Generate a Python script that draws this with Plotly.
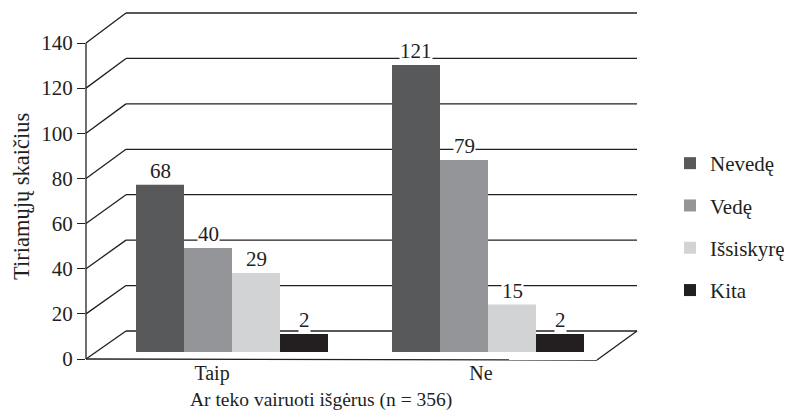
import plotly.graph_objects as go

# ---------------- data ----------------
categories = ["Taip", "Ne"]
series_names = ["Nevedę", "Vedę", "Išsiskyrę", "Kita"]
nevede = [68, 121]
vede = [40, 79]
issiskyre = [29, 15]
kita = [2, 2]
y_ticks = [0, 20, 40, 60, 80, 100, 120, 140]

x_title = "Ar teko vairuoti išgėrus (n = 356)"
y_title = "Tiriamųjų skaičius"

series_values = [nevede, vede, issiskyre, kita]

# ---------------- style / geometry ----------------
colors = ["#58595b", "#939598", "#d1d3d4", "#231f20"]
ink = "#231f20"
FONT = "Liberation Serif"
FS_TICK = 21
FS_CAT = 20
FS_XT = 19.5
FS_YT = 22.5
FS_LEG = 21
FS_LAB = 21

PAGE_OFF = 8  # page body margin
W, H = 792 - PAGE_OFF, 417 - PAGE_OFF
L, R, T, B = 86, 155, 13, 58  # in window pixels
PW = 792 - L - R
PH = 417 - T - B

def pxx(p):
    return (p - L) / PW

def pxy(p):
    return 1 - (p - T) / PH

FRONT_ZERO, FRONT_TOP = 359.0, 43.0
front_scale = (FRONT_ZERO - FRONT_TOP) / 140.0
front_range = [0, (FRONT_ZERO - T) / front_scale]

BACK_ZERO, BACK_TOP = 331.0, 13.0
back_scale = (BACK_ZERO - BACK_TOP) / 140.0
back_left, back_right = 126.0, 637.0

def front_px(v):
    return FRONT_ZERO - v * front_scale

def back_px(v):
    return BACK_ZERO - v * back_scale

BAR_ZERO = 338.5
bar_scale = 2.26
bar_range = [-(T + PH - BAR_ZERO) / bar_scale, (BAR_ZERO - T) / bar_scale]
BAR_FLOOR = -6  # visual floor of the perspective bars

cat_px = 256.0
bx0 = -(232 - L) / cat_px
bar_xrange = [bx0, bx0 + PW / cat_px]
BARGAP = 0.25
bar_px = cat_px * (1 - BARGAP) / 4

lab_px = 269.0
fx0 = -(212 - L) / lab_px
front_xrange = [fx0, fx0 + PW / lab_px]

fig = go.Figure()

fig.add_trace(go.Scatter(x=categories, y=[0, 0], mode="markers",
                         marker=dict(opacity=0), showlegend=False,
                         hoverinfo="skip", xaxis="x", yaxis="y"))

for name, vals, col in zip(series_names, series_values, colors):
    fig.add_trace(go.Bar(
        x=categories, y=[v - BAR_FLOOR for v in vals], base=BAR_FLOOR,
        name=name, marker=dict(color=col, line=dict(width=0)),
        xaxis="x2", yaxis="y2", legendgroup=name,
        hovertext=[str(v) for v in vals], hoverinfo="text+name",
    ))

shapes = []
lw = 1.3
for v in y_ticks:
    shapes.append(dict(type="line", xref="paper", yref="paper",
                       x0=pxx(back_left), x1=pxx(back_right),
                       y0=pxy(back_px(v)), y1=pxy(back_px(v)),
                       line=dict(color=ink, width=lw), layer="below"))
    shapes.append(dict(type="line", xref="paper", yref="paper",
                       x0=pxx(L), x1=pxx(back_left),
                       y0=pxy(front_px(v)), y1=pxy(back_px(v)),
                       line=dict(color=ink, width=lw), layer="below"))
shapes.append(dict(type="line", xref="paper", yref="paper",
                   x0=0, x1=0, y0=pxy(front_px(0)), y1=pxy(front_px(140)),
                   line=dict(color=ink, width=lw)))
shapes.append(dict(type="line", xref="paper", yref="paper",
                   x0=0, x1=pxx(597), y0=pxy(front_px(0)), y1=pxy(360),
                   line=dict(color=ink, width=lw), layer="below"))
shapes.append(dict(type="line", xref="paper", yref="paper",
                   x0=pxx(597), x1=pxx(back_right), y0=pxy(360), y1=pxy(back_px(0)),
                   line=dict(color=ink, width=lw), layer="below"))

annotations = []
for i, vals in enumerate(series_values):
    for j, c in enumerate(categories):
        annotations.append(dict(
            x=c, xref="x2", y=vals[j], yref="y2", text=str(vals[j]),
            showarrow=False, xanchor="center", yanchor="bottom",
            xshift=(i - 1.5) * bar_px, yshift=1,
            bgcolor="white", borderpad=0,
            font=dict(family=FONT, size=FS_LAB, color=ink)))

annotations.append(dict(x=pxx(321), y=pxy(400), xref="paper", yref="paper",
                        text=x_title, showarrow=False, xanchor="center",
                        yanchor="middle",
                        font=dict(family=FONT, size=FS_XT, color=ink)))
annotations.append(dict(x=pxx(22), y=pxy(197), xref="paper", yref="paper",
                        text=y_title, showarrow=False, textangle=-90,
                        xanchor="center", yanchor="middle",
                        font=dict(family=FONT, size=FS_YT, color=ink)))

fig.update_layout(
    width=W, height=H,
    margin=dict(l=L - PAGE_OFF, r=R, t=T - PAGE_OFF, b=B, autoexpand=False),
    paper_bgcolor="white", plot_bgcolor="white",
    font=dict(family=FONT, size=FS_TICK, color=ink),
    barmode="group", bargap=BARGAP, bargroupgap=0,
    showlegend=True,
    legend=dict(x=pxx(670), y=pxy(143), xanchor="left", yanchor="top",
                traceorder="grouped", tracegroupgap=12,
                font=dict(family=FONT, size=FS_LEG, color=ink),
                bgcolor="rgba(0,0,0,0)"),
    xaxis=dict(type="category", categoryorder="array", categoryarray=categories,
               range=front_xrange, showgrid=False, zeroline=False,
               showline=False, ticks="", tickfont=dict(family=FONT, size=FS_CAT),
               ticklabelstandoff=0),
    yaxis=dict(range=front_range, tickvals=y_ticks, ticks="outside",
               ticklen=8, tickwidth=lw, tickcolor=ink, showgrid=False,
               zeroline=False, showline=False,
               tickfont=dict(family=FONT, size=FS_TICK),
               ticklabelstandoff=0),
    xaxis2=dict(type="category", categoryorder="array", categoryarray=categories,
                overlaying="x", range=bar_xrange, visible=False),
    yaxis2=dict(overlaying="y", range=bar_range, visible=False),
    shapes=shapes,
    annotations=annotations,
)

fig.write_html("out.html")
